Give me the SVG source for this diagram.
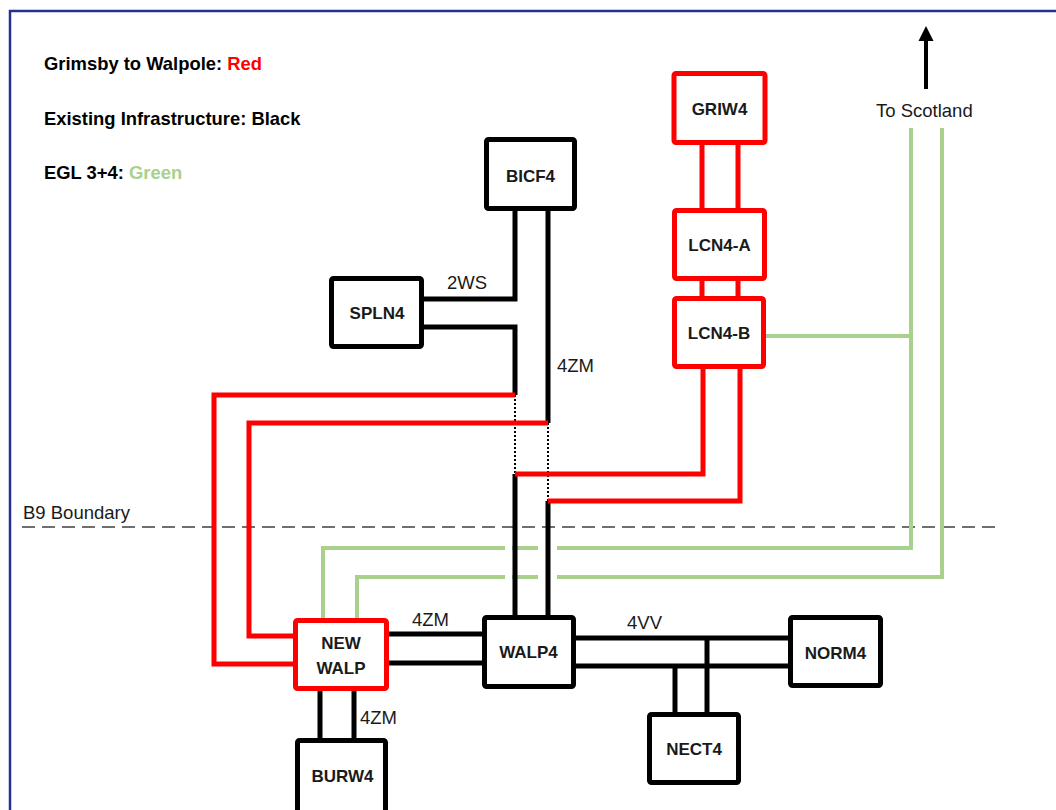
<svg xmlns="http://www.w3.org/2000/svg" width="1056" height="810" viewBox="0 0 1056 810">
<defs>
<style>
.lg{font-family:"Liberation Sans",Arial,sans-serif;font-weight:bold;font-size:18.4px;fill:#000}
.nl{font-family:"Liberation Sans",Arial,sans-serif;font-weight:bold;font-size:17px;fill:#1a1a1a;text-anchor:middle}
.cl{font-family:"Liberation Sans",Arial,sans-serif;font-size:18.5px;fill:#1a1a1a}
.nb{fill:#fff;stroke:#000;stroke-width:5}
.nr{fill:#fff;stroke:#FF0000;stroke-width:5}
.bk{fill:none;stroke:#000;stroke-width:5}
.rd{fill:none;stroke:#FF0000;stroke-width:5}
.gr{fill:none;stroke:#A9D18E;stroke-width:4}
.dt{fill:none;stroke:#000;stroke-width:2;stroke-dasharray:2 2}
</style>
</defs>
<rect x="0" y="0" width="1056" height="810" fill="#fff"/>
<rect x="10" y="11" width="1060" height="820" fill="none" stroke="#24308f" stroke-width="2.5"/>

<g id="legend">
<text class="lg" x="44" y="70">Grimsby to Walpole: <tspan fill="#FF0000">Red</tspan></text>
<text class="lg" x="44" y="125">Existing Infrastructure: Black</text>
<text class="lg" x="44" y="179">EGL 3+4: <tspan fill="#A9D18E">Green</tspan></text>
</g>

<g id="boundary">
<line x1="22" y1="527" x2="997" y2="527" stroke="#404040" stroke-width="1.6" stroke-dasharray="13 7"/>
<text class="cl" x="23" y="519">B9 Boundary</text>
</g>

<g id="connectors">
<path class="gr" d="M911,128 V548 H557"/>
<path class="gr" d="M538,548 H512"/>
<path class="gr" d="M505,548 H323 V620"/>
<path class="gr" d="M942,128 V577 H557"/>
<path class="gr" d="M538,577 H512"/>
<path class="gr" d="M505,577 H357 V620"/>
<path class="gr" d="M764,336 H911"/>
<path class="bk" d="M515,210 V299 H422"/>
<path class="bk" d="M422,327 H515 V395"/>
<path class="dt" d="M515,395 V474"/>
<path class="bk" d="M515,474 V617"/>
<path class="bk" d="M548,210 V423"/>
<path class="dt" d="M548,423 V501"/>
<path class="bk" d="M548,501 V617"/>
<path class="bk" d="M388,634 H484"/>
<path class="bk" d="M388,663 H484"/>
<path class="bk" d="M320,690 V741"/>
<path class="bk" d="M354,690 V741"/>
<path class="bk" d="M574,638 H790"/>
<path class="bk" d="M574,666 H790"/>
<path class="bk" d="M675,666 V714"/>
<path class="bk" d="M707,638 V714"/>
<path class="rd" d="M702,142 V212"/>
<path class="rd" d="M738,142 V212"/>
<path class="rd" d="M702,278 V300"/>
<path class="rd" d="M738,278 V300"/>
<path class="rd" d="M515,395 H214 V664 H296"/>
<path class="rd" d="M548,423 H249 V636 H296"/>
<path class="rd" d="M703,366 V474 H515"/>
<path class="rd" d="M740,366 V501 H548"/>
<line x1="926" y1="89" x2="926" y2="38" stroke="#000" stroke-width="4"/>
<polygon points="918.5,41 933.5,41 926,26" fill="#000"/>
<text class="cl" x="876" y="117">To Scotland</text>
<text class="cl" x="447" y="289">2WS</text>
<text class="cl" x="557" y="372">4ZM</text>
<text class="cl" x="412" y="626">4ZM</text>
<text class="cl" x="360" y="724">4ZM</text>
<text class="cl" x="627" y="629">4VV</text>
</g>

<g id="GRIW4"><rect class="nr" x="674" y="73.5" width="91" height="69" rx="2"/><text class="nl" x="719.5" y="115">GRIW4</text></g>
<g id="LCN4-A"><rect class="nr" x="674.5" y="210.5" width="90" height="68" rx="2"/><text class="nl" x="719.5" y="251">LCN4-A</text></g>
<g id="LCN4-B"><rect class="nr" x="674.5" y="298.5" width="89" height="68" rx="2"/><text class="nl" x="719" y="339">LCN4-B</text></g>
<g id="BICF4"><rect class="nb" x="486.5" y="139.5" width="88" height="69" rx="2"/><text class="nl" x="530.5" y="182">BICF4</text></g>
<g id="SPLN4"><rect class="nb" x="331.5" y="278.5" width="90" height="68" rx="2"/><text class="nl" x="377" y="319">SPLN4</text></g>
<g id="NEW-WALP"><rect class="nr" x="295.5" y="620.5" width="91" height="68" rx="2"/><text class="nl" x="341" y="649">NEW</text><text class="nl" x="341" y="674">WALP</text></g>
<g id="WALP4"><rect class="nb" x="484.5" y="617.5" width="89" height="69" rx="2"/><text class="nl" x="528.5" y="658">WALP4</text></g>
<g id="NORM4"><rect class="nb" x="790.5" y="617.5" width="90" height="68" rx="2"/><text class="nl" x="835.5" y="659">NORM4</text></g>
<g id="NECT4"><rect class="nb" x="649.5" y="714.5" width="89" height="68" rx="2"/><text class="nl" x="694" y="755">NECT4</text></g>
<g id="BURW4"><rect class="nb" x="297.5" y="740.5" width="88" height="80" rx="2"/><text class="nl" x="342.5" y="782">BURW4</text></g>
</svg>
